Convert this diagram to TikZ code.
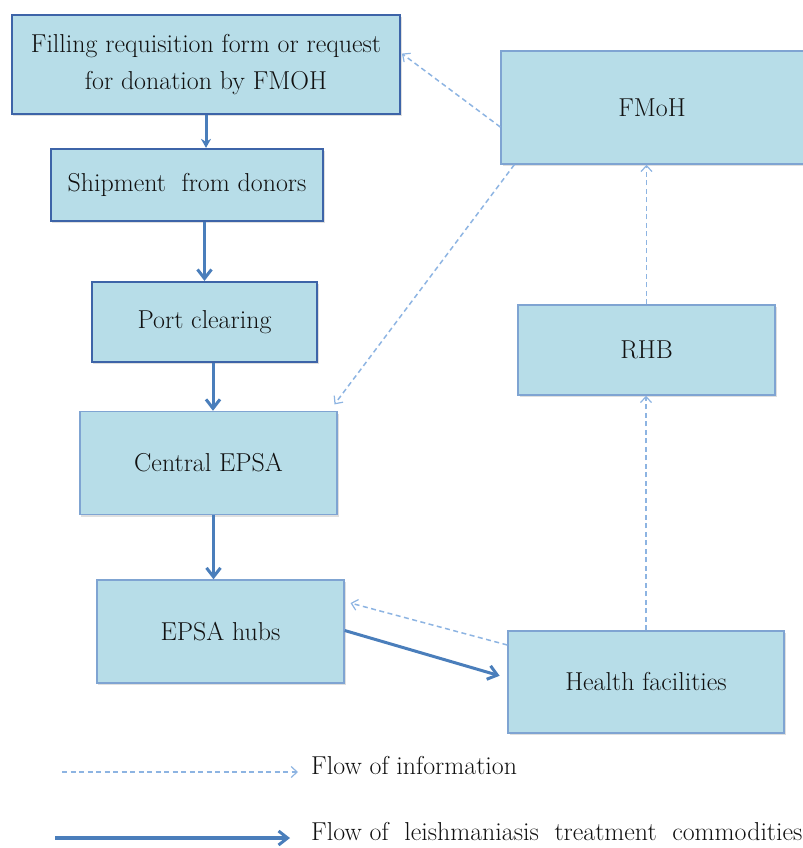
\documentclass[tikz,border=0pt]{standalone}
\usepackage{fontspec}
\usetikzlibrary{arrows.meta,shadows,calc}
\definecolor{boxfill}{HTML}{B7DDE8}
\definecolor{darkedge}{HTML}{3D64A8}
\definecolor{lightedge}{HTML}{7FA4D2}
\definecolor{solidarrow}{HTML}{4A7EBB}
\definecolor{dasharrow}{HTML}{8DB4E2}
\definecolor{txt}{HTML}{111111}
\tikzset{
  basebox/.style={rectangle, fill=boxfill, inner sep=0pt, text=txt, align=center,
    font=\fontsize{26}{38}\selectfont,
    drop shadow={shadow xshift=1.5bp, shadow yshift=-2bp, opacity=0.25}},
  darkbox/.style={basebox, draw=darkedge, line width=2.2bp},
  lightbox/.style={basebox, draw=lightedge, line width=1.4bp},
  solidflow/.style={draw=solidarrow, line width=3bp, -{Straight Barb[length=9bp,width=14bp,line width=3bp]}},
  solidtri/.style={draw=solidarrow, line width=3bp, -{Stealth[length=9bp,width=10bp]}},
  infoflow/.style={draw=dasharrow, line width=1.5bp, dash pattern=on 5bp off 3.5bp,
    -{Straight Barb[length=6bp,width=11bp,line width=1.2bp]}},
  legendtext/.style={anchor=west, inner sep=0pt, text=txt, font=\fontsize{26}{30}\selectfont}
}
\begin{document}
\begin{tikzpicture}[x=1bp,y=-1bp]
\useasboundingbox (0,0) rectangle (803,848);
% boxes
\node[darkbox, minimum width=388bp, minimum height=99bp] (fill) at (206,64.5)
  {Filling requisition form or request\\for donation by FMOH};
\node[darkbox, minimum width=272bp, minimum height=72bp] (ship) at (187,185)
  {Shipment\ \ from donors};
\node[darkbox, minimum width=225bp, minimum height=80bp] (port) at (204.5,322)
  {Port clearing};
\node[lightbox, minimum width=257bp, minimum height=103bp] (central) at (208.5,463)
  {Central EPSA};
\node[lightbox, minimum width=247bp, minimum height=103bp] (hubs) at (220.5,631.5)
  {EPSA hubs};
\node[lightbox, minimum width=276bp, minimum height=102bp] (hf) at (646,682)
  {Health facilities};
\node[lightbox, minimum width=310bp, minimum height=113bp] (fmoh) at (656,107.5)
  {\hspace*{-8bp}FMoH};
\node[lightbox, minimum width=257bp, minimum height=90bp] (rhb) at (646.5,350)
  {RHB};
% commodity flow
\draw[solidtri] (fill.south) -- (fill.south |- ship.north);
\draw[solidflow] (port.north |- ship.south) -- (port.north);
\draw[solidflow] ([xshift=8.5bp]port.south) -- ([xshift=8.5bp]port.south |- central.north);
\draw[solidflow] ([xshift=-7bp]hubs.north |- central.south) -- ([xshift=-7bp]hubs.north);
\draw[solidflow, shorten >=8bp] ([yshift=1bp]hubs.east) -- ([yshift=4bp]hf.west);
% information flow
\draw[infoflow] (hf.north) -- (hf.north |- rhb.south);
\draw[infoflow] (rhb.north) -- (rhb.north |- fmoh.south);
\draw[infoflow, shorten >=6bp] ([yshift=37bp]hf.west) -- ([yshift=30bp]hubs.east);
\draw[infoflow, shorten >=1bp] ([yshift=-19.5bp]fmoh.west) -- ([yshift=11.5bp]fill.east);
\draw[infoflow, shorten >=8bp] ([xshift=14bp]fmoh.south west) -- ([xshift=-8bp]central.north east);
% legend
\coordinate (l1a) at (62,772);
\coordinate (l1b) at (298,772);
\coordinate (l2a) at (55,838);
\coordinate (l2b) at (290,838);
\draw[infoflow] (l1a) -- (l1b);
\draw[solidflow, line width=4.5bp] (l2a) -- (l2b);
\node[legendtext] (leg1) at (311,766) {Flow of information};
\node[legendtext] (leg2) at (311,832) {Flow of\ \ leishmaniasis\ \ treatment\ \ commodities};
\end{tikzpicture}
\end{document}
